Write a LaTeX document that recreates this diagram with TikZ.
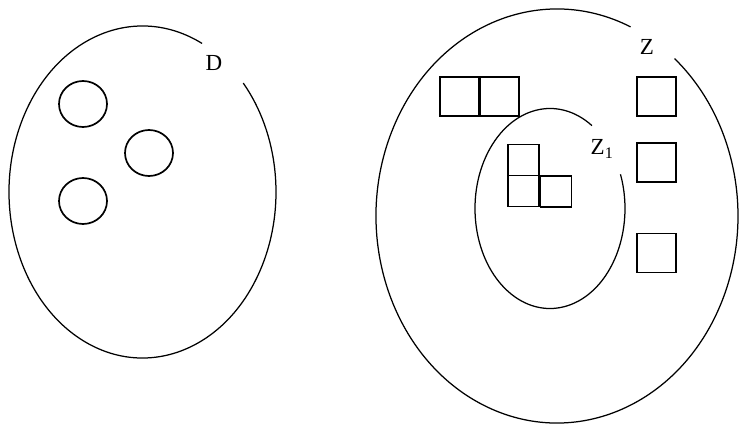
\documentclass[tikz,border=0pt]{standalone}
\usepackage{fontspec}
\setmainfont{Liberation Serif}
\usetikzlibrary{shapes.geometric}
\begin{document}
\begin{tikzpicture}[x=1pt,y=1pt,
  setline/.style={line width=1.25pt},
  sq/.style={draw,line width=1.7pt,rectangle,inner sep=0pt,minimum width=#1,minimum height=#1},
  sq/.default=39pt,
  ring/.style={draw,line width=1.7pt,ellipse,inner sep=0pt,minimum width=48pt,minimum height=46pt},
  lbl/.style={inner sep=0pt,font=\fontsize{23}{23}\selectfont}]
\useasboundingbox (0,0) rectangle (739,424);
\fill[white] (0,0) rectangle (739,424);
\begin{scope}
\clip (0,0) rectangle (739,424);
% left set D
\draw[setline] (142.5,232) ++(63.5:133.5 and 166) arc[start angle=63.5,end angle=401,x radius=133.5,y radius=166];
\node[lbl] (D) at (214,361) {D};
\node[ring] (c1) at (83,320) {};
\node[ring] (c2) at (149,271) {};
\node[ring] (c3) at (83,223) {};
% right set Z
\draw[setline] (557,208) ++(66:181 and 207) arc[start angle=66,end angle=409.5,x radius=181,y radius=207];
\node[lbl] (Z) at (647,377) {Z};
% inner set Z1
\draw[setline] (550,215.5) ++(56:75 and 100) arc[start angle=56,end angle=380,x radius=75,y radius=100];
\node[lbl] (Z1) at (602,275) {Z\textsubscript{1}};
% squares
\node[sq] (p1) at (459.5,327.5) {};
\node[sq] (p2) at (499.5,327.5) {};
\node[sq] (r1) at (656.5,327.5) {};
\node[sq] (r2) at (656.5,261.5) {};
\node[sq] (r3) at (656.5,171) {};
\node[sq=31pt] (i1) at (523.5,264) {};
\node[sq=31pt] (i2) at (523.5,233) {};
\node[sq=31pt] (i3) at (556,232.5) {};
\end{scope}
\end{tikzpicture}
\end{document}
